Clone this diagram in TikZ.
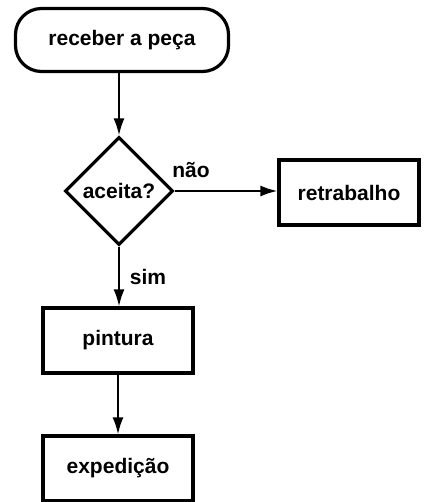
\documentclass[tikz,border=0pt]{standalone}
\usepackage{fontspec}
\setmainfont{Liberation Sans}
\usetikzlibrary{shapes.geometric,arrows.meta}
\begin{document}
\begin{tikzpicture}[x=1pt,y=-1pt,
  every node/.style={font=\fontsize{21}{25}\selectfont\bfseries},
  boxstyle/.style={draw,line width=3.2pt,rectangle,minimum width=150pt,minimum height=65pt,inner sep=0pt},
  termstyle/.style={draw,line width=3.2pt,rectangle,rounded corners=26pt,minimum width=213pt,minimum height=63pt,inner sep=0pt},
  decstyle/.style={draw,line width=3.2pt,diamond,aspect=1,minimum width=108pt,minimum height=108pt,inner sep=0pt},
  conn/.style={line width=2pt,-{Latex[length=17pt,width=11pt]}},
  lab/.style={inner sep=0pt}]
\useasboundingbox (0,0) rectangle (423,502);
\node[termstyle] (start) at (122,40) {receber a peça};
\node[decstyle] (dec) at (119,191) {aceita?};
\node[boxstyle,minimum width=140pt] (retr) at (349,192.5) {retrabalho};
\node[boxstyle] (pint) at (118,340.5) {pintura};
\node[boxstyle] (exped) at (118,468.5) {expedição};
\draw[conn] (start.south -| dec.north) -- (dec.north);
\draw[conn] (dec.east) -- (retr.west |- dec.east);
\draw[conn] (dec.south) -- (pint.north -| dec.south);
\draw[conn] (pint.south) -- (exped.north);
\node[lab] (nao) at (191,170) {não};
\node[lab] (sim) at (148,277) {sim};
\end{tikzpicture}
\end{document}
